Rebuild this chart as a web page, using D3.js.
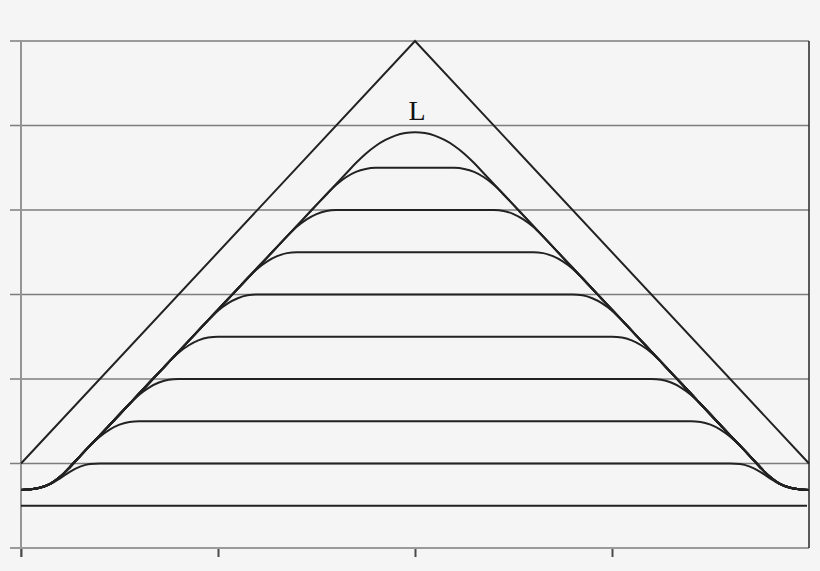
<!DOCTYPE html>
<html>
<head>
<meta charset="utf-8">
<script src="https://cdn.jsdelivr.net/npm/d3@7"></script>
<style>
  html, body { margin: 0; padding: 0; background: #f5f5f5; }
  svg { display: block; }
</style>
</head>
<body>
<svg id="chart" width="820" height="571"></svg>
<script>
// ---- data ----
// x ticks along the bottom axis
const xTicks = [0, 1, 2, 3];
// y gridline levels
const yTicks = [0, 1, 2, 3, 4, 5, 6];
// outer triangle (apex and base corners)
const triangle = [[0, 1], [2, 6], [4, 1]];
// limiting curve L, left half (x, y); the right half is its mirror image
const curveLLeft = [
  [0.00, 0.686], [0.05, 0.694], [0.10, 0.716], [0.15, 0.762], [0.20, 0.845],
  [0.25, 0.962], [0.30, 1.088], [0.35, 1.212], [0.40, 1.332], [0.45, 1.456],
  [0.50, 1.580], [0.55, 1.704], [0.60, 1.828], [0.65, 1.952], [0.70, 2.076],
  [0.75, 2.200], [0.80, 2.324], [0.85, 2.448], [0.90, 2.572], [0.95, 2.696],
  [1.00, 2.820], [1.05, 2.944], [1.10, 3.068], [1.15, 3.192], [1.20, 3.316],
  [1.25, 3.440], [1.30, 3.564], [1.35, 3.688], [1.40, 3.812], [1.45, 3.936],
  [1.50, 4.060], [1.55, 4.184], [1.60, 4.308], [1.65, 4.432], [1.70, 4.556],
  [1.75, 4.667], [1.80, 4.758], [1.85, 4.829], [1.90, 4.880], [1.95, 4.910],
  [2.00, 4.920]
];
// plateau heights of the truncated curves
const plateauLevels = [1.0, 1.5, 2.0, 2.5, 3.0, 3.5, 4.0, 4.5];
// bottom flat line
const baseLevel = 0.5;
const baseSpan = [0, 3.99];
// label
const labelText = "L";
const labelPos = [2.01, 5.1];

// ---- layout ----
const svg = d3.select("#chart");
const x = d3.scaleLinear().domain([0, 4]).range([21, 809]);
const y = d3.scaleLinear().domain([0, 6]).range([548, 41]);

// gridlines (extend left as tick marks)
svg.append("g").selectAll("line").data(yTicks.filter(d => d > 0)).join("line")
  .attr("x1", 10).attr("x2", x(4))
  .attr("y1", d => y(d)).attr("y2", d => y(d))
  .attr("stroke", "#7d7d7d").attr("stroke-width", 1.4);

// left axis line
svg.append("line")
  .attr("x1", x(0)).attr("x2", x(0)).attr("y1", y(6)).attr("y2", y(0) + 9)
  .attr("stroke", "#959595").attr("stroke-width", 2);

// bottom axis
const xAxis = d3.axisBottom(x).tickValues(xTicks).tickSize(9).tickSizeOuter(0).tickFormat("");
const gx = svg.append("g").attr("transform", `translate(0,${y(0)})`).call(xAxis);
gx.select(".domain").remove();
gx.selectAll(".tick line").attr("stroke", "#4a4a4a").attr("stroke-width", 2);
svg.append("line")
  .attr("x1", 10).attr("x2", x(4)).attr("y1", y(0)).attr("y2", y(0))
  .attr("stroke", "#9a9a9a").attr("stroke-width", 2);

// right border
svg.append("line")
  .attr("x1", x(4)).attr("x2", x(4)).attr("y1", y(6)).attr("y2", y(0))
  .attr("stroke", "#333").attr("stroke-width", 1.6);

// ---- marks ----
const ink = "#222";
const lineGen = d3.line().x(d => x(d[0])).y(d => y(d[1])).curve(d3.curveMonotoneX);
const straight = d3.line().x(d => x(d[0])).y(d => y(d[1]));

// full L curve (mirror the left half)
const curveL = curveLLeft.concat(
  curveLLeft.slice(0, -1).reverse().map(d => [4 - d[0], d[1]])
);

// triangle
svg.append("path").attr("d", straight(triangle))
  .attr("fill", "none").attr("stroke", ink).attr("stroke-width", 2);

// bottom line
svg.append("path").attr("d", straight([[baseSpan[0], baseLevel], [baseSpan[1], baseLevel]]))
  .attr("fill", "none").attr("stroke", ink).attr("stroke-width", 2);

// rounded minimum between L and a plateau height
function smin(a, b, k) {
  const h = Math.max(k - Math.abs(a - b), 0) / k;
  return Math.min(a, b) - h * h * k / 4;
}
plateauLevels.forEach(lv => {
  const pts = curveL.map(d => [d[0], smin(d[1], lv, 0.3)]);
  svg.append("path").attr("d", lineGen(pts))
    .attr("fill", "none").attr("stroke", ink).attr("stroke-width", 2);
});

// L curve
svg.append("path").attr("d", lineGen(curveL))
  .attr("fill", "none").attr("stroke", ink).attr("stroke-width", 2);

// label
svg.append("text")
  .attr("x", x(labelPos[0])).attr("y", y(labelPos[1]) + 3)
  .attr("text-anchor", "middle")
  .attr("font-family", "'Liberation Serif', 'DejaVu Serif', serif")
  .attr("font-size", 28).attr("fill", "#111")
  .text(labelText);
</script>
</body>
</html>
